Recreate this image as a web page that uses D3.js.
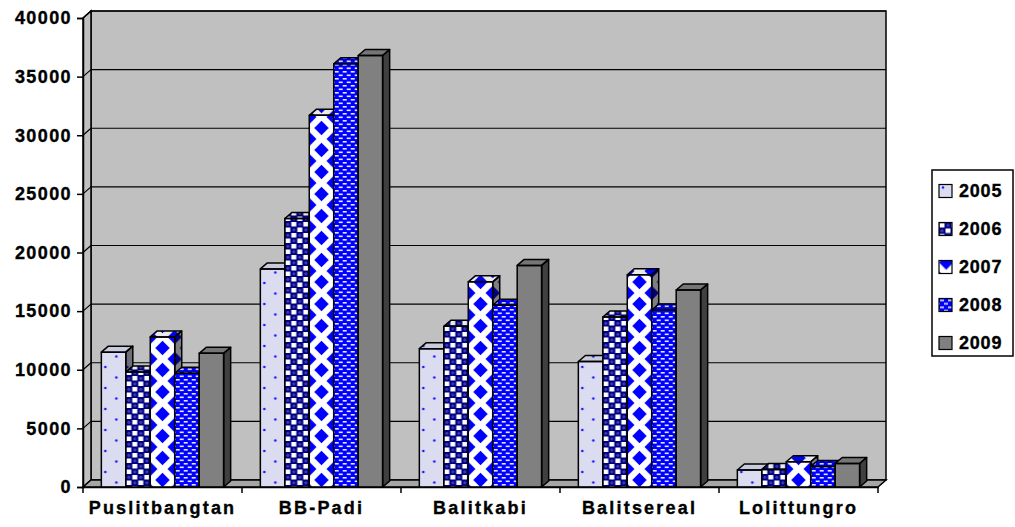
<!DOCTYPE html>
<html>
<head>
<meta charset="utf-8">
<script src="https://cdn.jsdelivr.net/npm/d3@7/dist/d3.min.js"></script>
<style>
body { margin: 0; background: #fff; }
text { font-family: "Liberation Sans", Arial, sans-serif; font-weight: bold; fill: #000; stroke: #000; stroke-width: 0.35px; }
</style>
</head>
<body>
<svg id="chart" width="1015" height="527"></svg>
<script>
var categories = ["Puslitbangtan", "BB-Padi", "Balitkabi", "Balitsereal", "Lolittungro"];
var years = ["2005", "2006", "2007", "2008", "2009"];
var v2005 = [11500, 18600, 11800, 10700, 1450];
var v2006 = [9800, 22900, 13700, 14500, 1500];
var v2007 = [12800, 31700, 17500, 18100, 2150];
var v2008 = [9700, 36100, 15500, 15100, 1750];
var v2009 = [11400, 36800, 18900, 16800, 2000];
var yTicks = [0, 5000, 10000, 15000, 20000, 25000, 30000, 35000, 40000];

var series = [v2005, v2006, v2007, v2008, v2009];

var svg = d3.select("#chart");
var defs = svg.append("defs");

var x = d3.scaleBand().domain(categories).range([83, 878]);
var step = x.bandwidth();
var gapHalf = step * 0.75 / 6.5;
var xs = d3.scaleBand().domain(years).range([gapHalf, step - gapHalf]);
var bw = xs.bandwidth();
var y = d3.scaleLinear().domain([0, 40000]).range([487, 18]);

// depth offsets of the walls and of the bars
var dx = 8, dy = -7, bdx = 7, bdy = -6;
var x0 = x.range()[0], x1 = x.range()[1];

function pts(a) { return a.map(function (p) { return p.join(","); }).join(" "); }

// fill patterns, one per bar so they line up with the bar's left edge
function addPattern(id, k, ox, oy) {
	var p = defs.append("pattern").attr("id", id)
		.attr("patternUnits", "userSpaceOnUse")
		.attr("x", ox).attr("y", oy);
	if (k == 0) {
		p.attr("width", 22).attr("height", 21);
		p.append("rect").attr("width", 22).attr("height", 21).attr("fill", "#dcdcf0");
		p.append("circle").attr("cx", 4).attr("cy", 3).attr("r", 1.3).attr("fill", "#1a1aff");
		p.append("circle").attr("cx", 15).attr("cy", 13.5).attr("r", 1.3).attr("fill", "#1a1aff");
	} else if (k == 1) {
		p.attr("width", 12).attr("height", 11);
		p.append("rect").attr("width", 12).attr("height", 11).attr("fill", "#000080");
		p.append("rect").attr("x", 0.5).attr("y", 0.5).attr("width", 5).attr("height", 4.5).attr("fill", "#fff");
		p.append("rect").attr("x", 6.5).attr("y", 6).attr("width", 5).attr("height", 4.5).attr("fill", "#fff");
		p.append("circle").attr("cx", 9).attr("cy", 2.8).attr("r", 1.6).attr("fill", "#3a3ab0");
		p.append("circle").attr("cx", 3).attr("cy", 8.3).attr("r", 1.6).attr("fill", "#3a3ab0");
	} else if (k == 2) {
		var w = bw, h = 22, r = 7.2;
		p.attr("width", w).attr("height", h);
		p.append("rect").attr("width", w).attr("height", h).attr("fill", "#fff");
		[[w / 2, h / 2], [0, 0], [w, 0], [0, h], [w, h]].forEach(function (c) {
			p.append("path")
				.attr("d", "M" + c[0] + "," + (c[1] - r) + "L" + (c[0] + r) + "," + c[1] +
					"L" + c[0] + "," + (c[1] + r) + "L" + (c[0] - r) + "," + c[1] + "Z")
				.attr("fill", "#0000ff");
		});
	} else if (k == 3) {
		p.attr("width", 8).attr("height", 7);
		p.append("rect").attr("width", 8).attr("height", 7).attr("fill", "#0000ff");
		[[1, 1], [5, 4.5], [-3, 4.5]].forEach(function (c) {
			p.append("rect").attr("x", c[0]).attr("y", c[1]).attr("width", 4).attr("height", 1.6)
				.attr("fill", "#e6e6ff");
		});
	} else {
		p.attr("width", 10).attr("height", 10);
		p.append("rect").attr("width", 10).attr("height", 10).attr("fill", "#808080");
	}
	return "url(#" + id + ")";
}

// walls and floor
var yTop = y(40000), yBot = y(0);
svg.append("polygon")
	.attr("points", pts([[x0 + dx, yTop + dy], [x1 + dx, yTop + dy], [x1 + dx, yBot + dy], [x0 + dx, yBot + dy]]))
	.attr("fill", "#c0c0c0").attr("stroke", "#000").attr("stroke-width", 1.5);
svg.append("polygon")
	.attr("points", pts([[x0, yTop], [x0 + dx, yTop + dy], [x0 + dx, yBot + dy], [x0, yBot]]))
	.attr("fill", "#c0c0c0").attr("stroke", "#000").attr("stroke-width", 1.5);
svg.append("polygon")
	.attr("points", pts([[x0, yBot], [x0 + dx, yBot + dy], [x1 + dx, yBot + dy], [x1, yBot]]))
	.attr("fill", "#a6a6a6").attr("stroke", "#000").attr("stroke-width", 1.5);

// gridlines on back wall and side wall
var grid = svg.append("g").attr("stroke", "#000").attr("stroke-width", 1.2);
yTicks.slice(1).forEach(function (t) {
	grid.append("line").attr("x1", x0 + dx).attr("x2", x1 + dx)
		.attr("y1", y(t) + dy).attr("y2", y(t) + dy);
	grid.append("line").attr("x1", x0).attr("x2", x0 + dx)
		.attr("y1", y(t)).attr("y2", y(t) + dy);
});

// bars
var bars = svg.append("g");
categories.forEach(function (c, i) {
	years.forEach(function (yr, k) {
		var v = series[k][i];
		var bx = x(c) + xs(yr), by = y(v), b0 = y(0);
		var fill = addPattern("p" + k + "_" + i, k, bx, 7);
		var g = bars.append("g");
		var front = [[bx, by], [bx + bw, by], [bx + bw, b0], [bx, b0]];
		var top = [[bx, by], [bx + bdx, by + bdy], [bx + bw + bdx, by + bdy], [bx + bw, by]];
		var side = [[bx + bw, by], [bx + bw + bdx, by + bdy], [bx + bw + bdx, b0 + bdy], [bx + bw, b0]];
		g.append("polygon").attr("points", pts(side)).attr("fill", fill);
		g.append("polygon").attr("points", pts(side)).attr("fill", "#000").attr("fill-opacity", 0.5);
		g.append("polygon").attr("points", pts(top)).attr("fill", fill);
		g.append("polygon").attr("points", pts(top)).attr("fill", "#000").attr("fill-opacity", 0.08);
		g.append("polygon").attr("points", pts(front)).attr("fill", fill);
		g.selectAll("polygon.edge").data([side, top, front]).enter().append("polygon")
			.attr("class", "edge")
			.attr("points", pts)
			.attr("fill", "none").attr("stroke", "#000").attr("stroke-width", 1.5)
			.attr("stroke-linejoin", "round");
	});
});

// y axis
var yAxis = svg.append("g").attr("transform", "translate(" + x0 + ",0)")
	.call(d3.axisLeft(y).tickValues(yTicks).tickSize(6).tickPadding(5).tickFormat(d3.format("d")));
yAxis.select(".domain").attr("stroke", "#000").attr("stroke-width", 1.5);
yAxis.selectAll(".tick line").attr("stroke", "#000").attr("stroke-width", 1.5);
yAxis.selectAll("text").style("font-size", "18px").style("letter-spacing", "1.4px")
	.attr("font-family", null).attr("fill", "#000");

// x axis
var xAxis = svg.append("g").attr("transform", "translate(0," + y(0) + ")")
	.call(d3.axisBottom(x).tickSize(0).tickPadding(14));
xAxis.select(".domain").attr("stroke", "#000").attr("stroke-width", 1.5);
xAxis.selectAll("text").style("font-size", "18px").style("letter-spacing", "2.2px")
	.attr("font-family", null).attr("fill", "#000");
categories.concat([null]).forEach(function (c) {
	var tx = c === null ? x1 : x(c);
	xAxis.append("line").attr("x1", tx).attr("x2", tx).attr("y1", 0).attr("y2", 6)
		.attr("stroke", "#000").attr("stroke-width", 1.5);
});

// legend
var legend = svg.append("g");
legend.append("rect").attr("x", 932).attr("y", 170).attr("width", 81).attr("height", 186)
	.attr("fill", "#fff").attr("stroke", "#000").attr("stroke-width", 1.5);
var ly = d3.scalePoint().domain(years).range([191, 343]);
years.forEach(function (yr, k) {
	var sy = ly(yr);
	var f = addPattern("leg" + k, k, 939 - (k == 2 ? 5 : 0), sy - 6.5 - (k == 2 ? 9 : 0));
	legend.append("rect").attr("x", 939).attr("y", sy - 6.5).attr("width", 13).attr("height", 13)
		.attr("fill", f).attr("stroke", "#000").attr("stroke-width", 1.2);
	legend.append("text").attr("x", 959).attr("y", sy).attr("dy", "0.36em")
		.style("font-size", "18px").style("letter-spacing", "0.8px").text(yr);
});
</script>
</body>
</html>
